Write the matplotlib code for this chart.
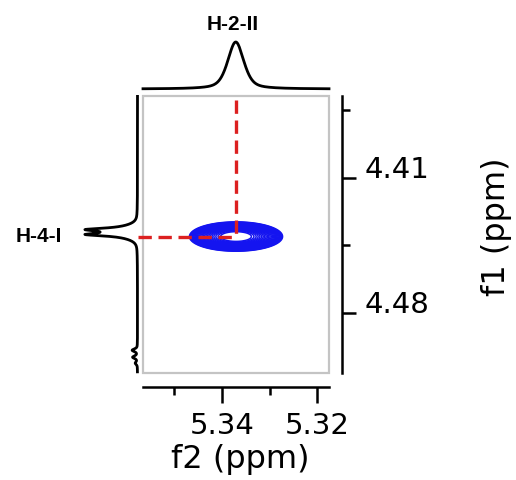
import numpy as np
import matplotlib
matplotlib.use("Agg")
import matplotlib.pyplot as plt
from matplotlib.patches import Rectangle

# ---------------- data ----------------
f2_limits = [5.3566, 5.3175]          # ppm, left -> right
f1_limits = [4.5111, 4.3675]          # ppm, bottom -> top
f2_major = [5.34, 5.32]
f2_minor = [5.35, 5.33]
f1_major = [4.41, 4.48]
f1_minor = [4.375, 4.445]
f2_ticklabels = ["5.34", "5.32"]
f1_ticklabels = ["4.41", "4.48"]

# cross peak (H-2-II / H-4-I)
cross_f2 = 5.33705
cross_f1 = 4.44036
cross_sigma_f2 = 0.0040
cross_sigma_f1 = 0.0031
contour_levels = np.geomspace(0.05, 0.72, 24)

# 1D projection along f2 (top): H-2-II
top_center = [5.3371]
top_height = [1.0]
top_fwhm = [0.0040]
top_eta = [0.5]

# 1D projection along f1 (left): H-4-I doublet + small noise wiggles
left_center = [4.43673, 4.43932, 4.43803, 4.4993, 4.5029, 4.5060]
left_height = [0.644, 0.644, 0.336, 0.10, 0.09, 0.04]
left_fwhm = [0.00166, 0.00166, 0.0061, 0.0016, 0.0016, 0.0016]
left_eta = [1.0, 1.0, 0.0, 0.5, 0.5, 0.5]

guide_f1_start = 4.3695   # top end of vertical guide
guide_f2_start = 5.3577   # left end of horizontal guide

labels_peak = {"top": "H-2-II", "left": "H-4-I"}


def pvoigt(x, c, h, fwhm, eta):
    g = fwhm / 2.0
    lor = 1.0 / (1.0 + ((x - c) / g) ** 2)
    gau = np.exp(-4 * np.log(2) * ((x - c) / fwhm) ** 2)
    return h * (eta * lor + (1 - eta) * gau)


W, H = 516, 480
fig = plt.figure(figsize=(W / 100, H / 100), dpi=100)


def px(x0, y0, x1, y1):
    return [x0 / W, 1 - y1 / H, (x1 - x0) / W, (y1 - y0) / H]


# ---------------- main 2D axes ----------------
ax = fig.add_axes(px(143, 96, 329, 373))
ax.set_xlim(*f2_limits)
ax.set_ylim(*f1_limits)

xg = np.linspace(min(f2_limits), max(f2_limits), 400)
yg = np.linspace(min(f1_limits), max(f1_limits), 400)
X, Y = np.meshgrid(xg, yg)
Z = np.exp(-0.5 * (((X - cross_f2) / cross_sigma_f2) ** 2 +
                   ((Y - cross_f1) / cross_sigma_f1) ** 2))
ax.contour(X, Y, Z, levels=contour_levels, colors="#1414f0", linewidths=1.1)

red = "#dc2020"
ax.plot([cross_f2, cross_f2], [guide_f1_start, cross_f1], color=red, lw=2.4,
        dashes=(4, 2), clip_on=False, zorder=5)
ax.plot([guide_f2_start, cross_f2], [cross_f1, cross_f1], color=red, lw=2.4,
        dashes=(4, 2), clip_on=False, zorder=5)

ax.add_patch(Rectangle((0, 0), 1, 1, transform=ax.transAxes, fill=False,
                       edgecolor="#c4c4c4", lw=1.6, clip_on=False, zorder=1))

for s in ["left", "top"]:
    ax.spines[s].set_visible(False)
ax.spines["bottom"].set_position(("outward", 10.1))
ax.spines["right"].set_position(("outward", 9.4))
ax.spines["bottom"].set_linewidth(1.8)
ax.spines["right"].set_linewidth(1.8)
ax.yaxis.tick_right()
ax.yaxis.set_label_position("right")

ax.set_xticks(f2_major)
ax.set_xticklabels(f2_ticklabels)
ax.set_xticks(f2_minor, minor=True)
ax.set_yticks(f1_major)
ax.set_yticklabels(f1_ticklabels)
ax.set_yticks(f1_minor, minor=True)

ax.tick_params(axis="x", which="major", length=11.5, width=1.8, direction="out",
               labelsize=21, pad=6.5)
ax.tick_params(axis="x", which="minor", length=5.8, width=1.8, direction="out")
ax.tick_params(axis="y", which="major", length=10, width=1.8, direction="out",
               labelsize=21, pad=6, left=False, right=True)
ax.tick_params(axis="y", which="minor", length=5.8, width=1.8, direction="out",
               left=False, right=True)
for t in ax.yaxis.get_major_ticks():
    t.label2.set_verticalalignment("baseline")

ax.set_xlabel("f2 (ppm)", fontsize=23, va="center")
ax.xaxis.set_label_coords(0.5215, -0.314)
ax.set_ylabel("f1 (ppm)", fontsize=23, rotation=90, va="center")
ax.yaxis.set_label_coords(1.903, 0.527)

# ---------------- top projection ----------------
axt = fig.add_axes(px(143, 42, 329, 89))
axt.set_xlim(*f2_limits)
axt.set_ylim(0, 1)
xs = np.linspace(min(f2_limits), max(f2_limits), 800)
ys = sum(pvoigt(xs, c, h, w, e) for c, h, w, e in
         zip(top_center, top_height, top_fwhm, top_eta))
axt.plot(xs, ys, color="black", lw=2.0, clip_on=False)
axt.axis("off")

# ---------------- left projection ----------------
axl = fig.add_axes(px(85, 96, 137.5, 373))
axl.set_ylim(*f1_limits)
axl.set_xlim(1, 0)
ys2 = np.linspace(4.3677, 4.5105, 1500)
xs2 = sum(pvoigt(ys2, c, h, w, e) for c, h, w, e in
          zip(left_center, left_height, left_fwhm, left_eta))
axl.plot(xs2, ys2, color="black", lw=2.0, clip_on=False)
axl.axis("off")

# ---------------- peak labels ----------------
fig.text(233 / W, 1 - 25 / H, labels_peak["top"], fontsize=15, fontweight="bold",
         family="Liberation Sans", ha="center", va="center")
fig.text(38.5 / W, 1 - 236 / H, labels_peak["left"], fontsize=15, fontweight="bold",
         family="Liberation Sans", ha="center", va="center")

fig.savefig("out.png", dpi=100, facecolor="white")
